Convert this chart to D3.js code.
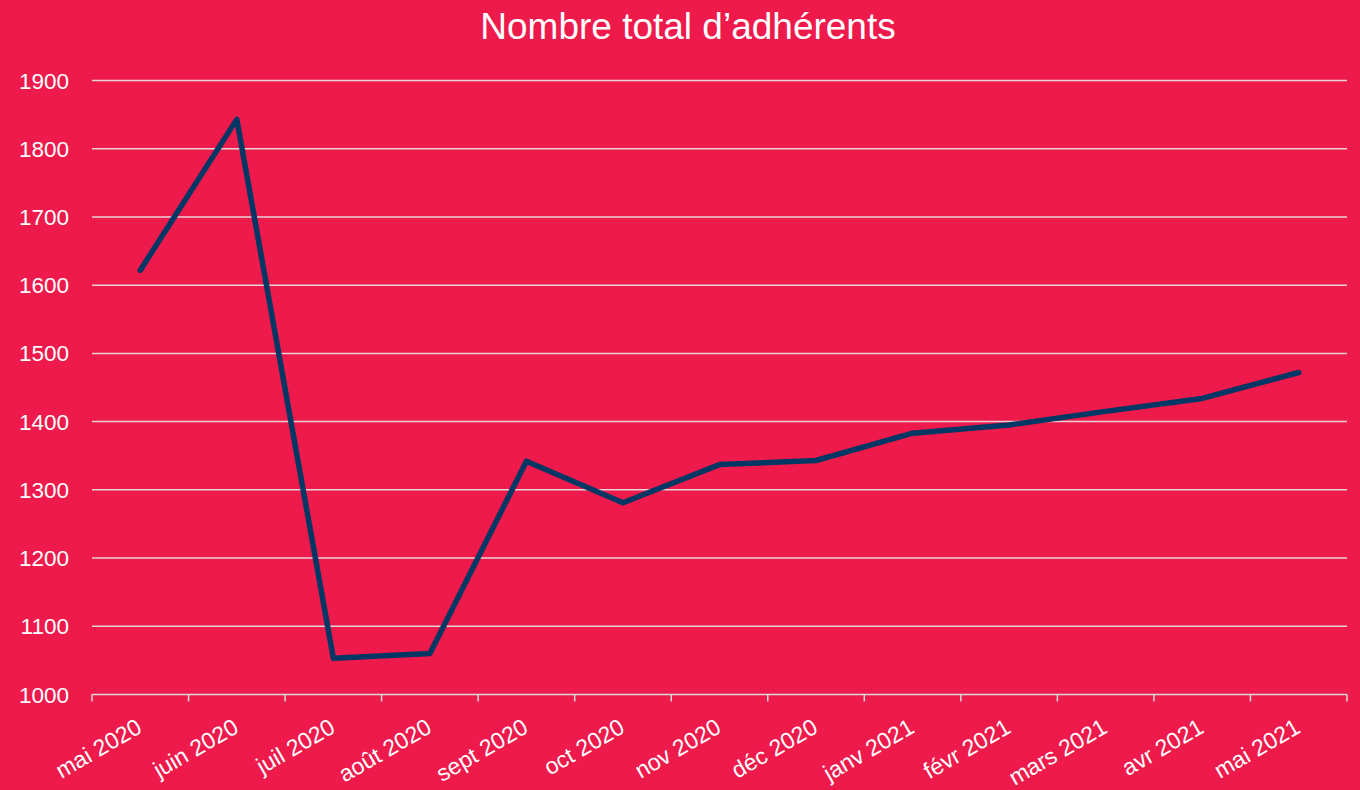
<!DOCTYPE html>
<html>
<head>
<meta charset="utf-8">
<script src="https://cdn.jsdelivr.net/npm/d3@7"></script>
<style>
  body { margin: 0; background: #EE1A4B; }
  svg { display: block; font-family: "Liberation Sans", Arial, sans-serif; }
</style>
</head>
<body>
<div id="chart"></div>
<script>
// data
var months = ["mai 2020", "juin 2020", "juil 2020", "août 2020", "sept 2020", "oct 2020",
    "nov 2020", "déc 2020", "janv 2021", "févr 2021", "mars 2021", "avr 2021", "mai 2021"];
var members = [1622, 1843, 1053, 1060, 1342, 1281, 1337, 1343, 1383, 1395, 1415, 1434, 1472];
var yTicks = [1000, 1100, 1200, 1300, 1400, 1500, 1600, 1700, 1800, 1900];

var W = 1360, H = 790;
var margin = {top: 80.5, right: 13, bottom: 95.5, left: 92};
var width = W - margin.left - margin.right,
    height = H - margin.top - margin.bottom;

var svg = d3.select("#chart").append("svg")
    .attr("width", W)
    .attr("height", H);

svg.append("rect")
    .attr("width", W).attr("height", H)
    .attr("fill", "#EE1A4B");

svg.append("text")
    .attr("x", 688)
    .attr("y", 39)
    .attr("text-anchor", "middle")
    .attr("fill", "#fff")
    .style("font-size", "37px")
    .text("Nombre total d\u2019adhérents");

var g = svg.append("g")
    .attr("transform", "translate(" + margin.left + "," + margin.top + ")");

var x = d3.scaleBand().domain(months).range([0, width]);
var y = d3.scaleLinear().domain([1000, 1900]).range([height, 0]);

// gridlines
g.selectAll(".grid")
    .data(yTicks.slice(1))
    .enter().append("line")
    .attr("x1", 0).attr("x2", width)
    .attr("y1", d => y(d)).attr("y2", d => y(d))
    .attr("stroke", "#E6D3D8")
    .attr("stroke-width", 1.5);

// y labels
g.selectAll(".ylab")
    .data(yTicks)
    .enter().append("text")
    .attr("x", -23)
    .attr("y", d => y(d))
    .attr("dy", "0.36em")
    .attr("text-anchor", "end")
    .attr("fill", "#fff")
    .style("font-size", "22.5px")
    .text(d => d);

// x axis line + ticks at band edges
g.append("line")
    .attr("x1", 0).attr("x2", width)
    .attr("y1", height).attr("y2", height)
    .attr("stroke", "#D9D9D9")
    .attr("stroke-width", 1.5);

var edges = months.map(m => x(m)).concat([width]);
g.selectAll(".xtick")
    .data(edges)
    .enter().append("line")
    .attr("x1", d => d).attr("x2", d => d)
    .attr("y1", height).attr("y2", height + 7)
    .attr("stroke", "#D9D9D9")
    .attr("stroke-width", 1.5);

g.selectAll(".xlab")
    .data(months)
    .enter().append("text")
    .attr("transform", d => "translate(" + (x(d) + x.bandwidth() / 2 - 5) + "," + (height + 23) + ") rotate(-30)")
    .attr("text-anchor", "end")
    .attr("dy", "0.71em")
    .attr("fill", "#fff")
    .style("font-size", "23px")
    .text(d => d);

// line
var line = d3.line()
    .x((d, i) => x(months[i]) + x.bandwidth() / 2)
    .y(d => y(d));

g.append("path")
    .datum(members)
    .attr("d", line)
    .attr("fill", "none")
    .attr("stroke", "#003764")
    .attr("stroke-width", 5.5)
    .attr("stroke-linejoin", "round")
    .attr("stroke-linecap", "round");
</script>
</body>
</html>
